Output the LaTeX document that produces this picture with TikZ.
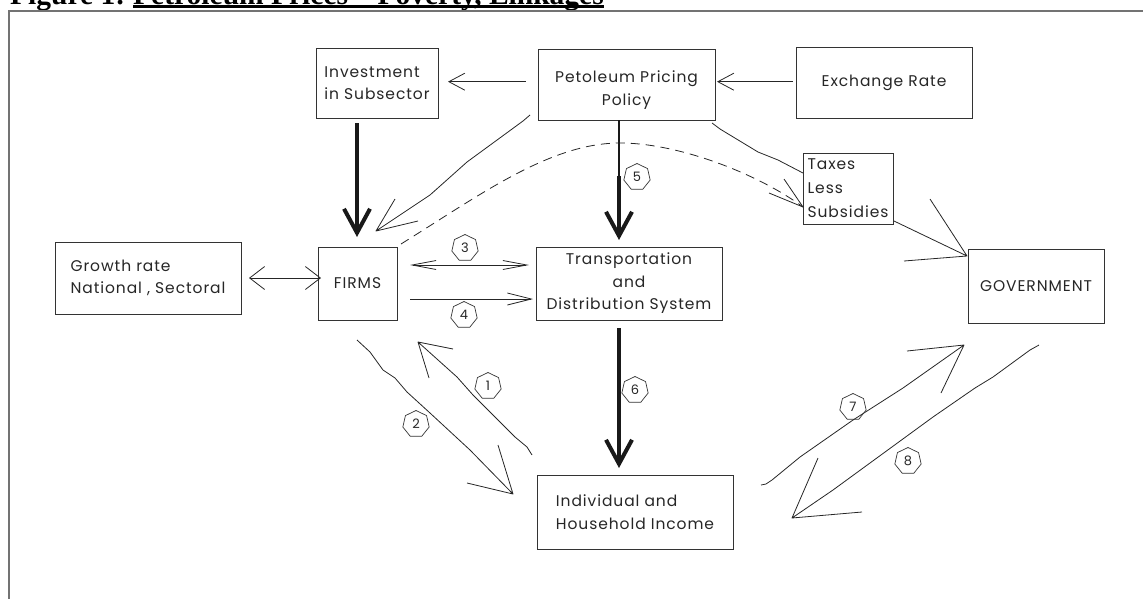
\documentclass[tikz,border=0pt]{standalone}
\usepackage{fontspec}
\setmainfont{Liberation Serif}
\newfontfamily\boxfont[LetterSpace=6]{Poppins}
\usetikzlibrary{arrows.meta,shapes.geometric}
\begin{document}
\begin{tikzpicture}[x=1pt,y=-1pt,
  box/.style={draw=black!80, line width=1pt, inner sep=0pt, text=black!85,
    font=\boxfont\fontsize{15.5}{22.5}\selectfont},
  ln/.style={line width=0.8pt, draw=black!85, line join=round},
  thk/.style={line width=4pt, draw=black!90},
  frame/.style={line width=2pt, draw=black!55},
  num/.style={draw=black!80, line width=0.7pt, regular polygon, regular polygon sides=7,
    minimum size=27pt, inner sep=0pt, text=black!85, font=\boxfont\fontsize{13}{13}\selectfont},
  hd/.style={-{Straight Barb[length=16pt,width=17pt]}},
  thd/.style={-{Straight Barb[length=24pt,width=26pt]}}
]
\useasboundingbox (0,0) rectangle (1143,598);
\clip (0,0) rectangle (1143,598);

% title (cut by the top edge)
\node[anchor=base west, inner sep=0pt, font=\bfseries\fontsize{29.5}{30}\selectfont] (t1) at (10,4.5) {Figure 1:};
\node[anchor=base west, inner sep=0pt, font=\bfseries\fontsize{29.5}{30}\selectfont] (t2) at (133,4.5) {Petroleum Prices -- Poverty, Linkages};
\draw[line width=3pt] ([yshift=-2.2pt]t2.base west) -- ([yshift=-2.2pt]t2.base east);

% frame
\coordinate (fr1) at (1145,11); \coordinate (fr2) at (9,11); \coordinate (fr3) at (9,600);
\draw[frame] (fr1) -- (fr2) -- (fr3);

% boxes
\node[box, minimum width=122pt, minimum height=70pt, align=left] (inv) at (377,83) {Investment\\in Subsector};
\node[box, minimum width=177pt, minimum height=71pt] (ppp) at (626.5,84.7) {};
\node[inner sep=0pt, align=center, text=black!85, font=\boxfont\fontsize{15.5}{22.5}\selectfont] (ppptxt) at (626.5,90) {Petoleum Pricing\\Policy};
\node[box, minimum width=176pt, minimum height=71pt] (exr) at (884,82.5) {Exchange Rate};
\node[box, minimum width=186pt, minimum height=72pt, align=left] (grw) at (148,278) {Growth rate\\National , Sectoral};
\node[box, minimum width=79pt, minimum height=73pt] (firms) at (357.5,283.5) {FIRMS};
\node[box, minimum width=186pt, minimum height=73pt, align=center] (trans) at (629,283.5) {Transportation\\and\\Distribution System};
\node[box, minimum width=90pt, minimum height=71pt, align=left, font=\boxfont\fontsize{15.5}{24}\selectfont] (tax) at (848,188.5) {Taxes\\Less\\Subsidies};
\node[box, minimum width=136pt, minimum height=74pt] (gov) at (1036,286) {GOVERNMENT};
\node[box, minimum width=196pt, minimum height=74pt, align=left] (ind) at (635,512) {Individual and\\Household Income};

% top horizontal arrows
\coordinate (pi1) at (525.5,81.7); \coordinate (pi2) at (448,81.7);
\draw[ln,hd] (pi1) -- (pi2);
\coordinate (ep1) at (793,81.7); \coordinate (ep2) at (717,81.7);
\draw[ln,hd] (ep1) -- (ep2);

% thick arrows
\coordinate (if1) at (357,123); \coordinate (if2) at (357,237);
\draw[thk,thd] (if1) -- (if2);
\coordinate (pt1) at (619,120); \coordinate (pt2) at (619,176); \coordinate (pt3) at (619,240);
\draw[line width=1.6pt, draw=black!90] (pt1) -- (pt2);
\draw[thk,thd] (pt2) -- (pt3);
\coordinate (ti1) at (619,328); \coordinate (ti2) at (619,468);
\draw[thk,thd] (ti1) -- (ti2);

% horizontal arrows around FIRMS
\coordinate (gf1) at (249,278); \coordinate (gf2) at (321,278);
\draw[ln,{Straight Barb[length=15pt,width=23pt]}-{Straight Barb[length=15pt,width=23pt]}] (gf1) -- (gf2);
\coordinate (a31) at (410,265); \coordinate (a32) at (529,265);
\draw[ln,{Straight Barb[length=24pt,width=9pt]}-{Straight Barb[length=24pt,width=9pt]}] (a31) -- (a32);
\coordinate (a41) at (410,299); \coordinate (a42) at (533,299);
\draw[ln,-{Straight Barb[length=24pt,width=12pt]}] (a41) -- (a42);

% Petroleum -> FIRMS
\coordinate (pf1) at (530,115); \coordinate (pf2) at (376,231);
\draw[ln] (pf1) -- (523,121) -- (508,132) -- (467,162) -- (430,195) -- (pf2) -- (395,199) (pf2) -- (418,221);

% dashed FIRMS -> Taxes
\coordinate (dt1) at (401,244); \coordinate (dt2) at (803,207);
\draw[ln, dash pattern=on 9pt off 6pt] (dt1) .. controls (480,195) and (550,143) .. (620,143)
   .. controls (680,143) and (760,175) .. (dt2);
\draw[ln] (784,179) -- (dt2) -- (769,193);

% Petroleum -> Taxes
\coordinate (px1) at (712,123); \coordinate (px2) at (803,173);
\draw[ln] (px1) -- (720,129) -- (758,152) -- (778,160) -- (px2);

% Taxes -> Government
\coordinate (tg1) at (894,221); \coordinate (tg2) at (967,256);
\draw[ln] (tg1) -- (tg2) -- (930,199) (tg2) -- (904,261);

% 2 : FIRMS -> Individual
\coordinate (fi1) at (357,340); \coordinate (fi2) at (513,494);
\draw[ln] (fi1) -- (370,352) -- (383,370) -- (395,378) -- (407,392) -- (430,413) -- (470,450) -- (fi2) -- (498,445) (fi2) -- (467,483);

% 1 : Individual -> FIRMS
\coordinate (if3) at (532,455); \coordinate (if4) at (418,342);
\draw[ln] (if3) -- (527,447) -- (515,437) -- (473,395) -- (457,377) -- (if4) -- (453,349) (if4) -- (429,378);

% 7 : Individual -> Government
\coordinate (ig1) at (761,485); \coordinate (ig2) at (964,345);
\draw[ln] (ig1) -- (766,484) -- (772,480) -- (800,457) -- (853,420) -- (903,388) -- (ig2) -- (907,351) (ig2) -- (941,393);

% 8 : Government -> Individual
\coordinate (gi1) at (1039,345); \coordinate (gi2) at (792,518);
\draw[ln] (gi1) -- (1030,350) -- (993,377) -- (975,388) -- (933,417) -- (833,490) -- (gi2) -- (818,458) (gi2) -- (862,512);

% number labels
\node[num] (n1) at (488,386) {1};
\node[num] (n2) at (416,424) {2};
\node[num] (n3) at (465,248) {3};
\node[num] (n4) at (464,315) {4};
\node[num] (n5) at (637,177) {5};
\node[num] (n6) at (635,390) {6};
\node[num] (n7) at (853,407) {7};
\node[num] (n8) at (908,461) {8};
\end{tikzpicture}
\end{document}
